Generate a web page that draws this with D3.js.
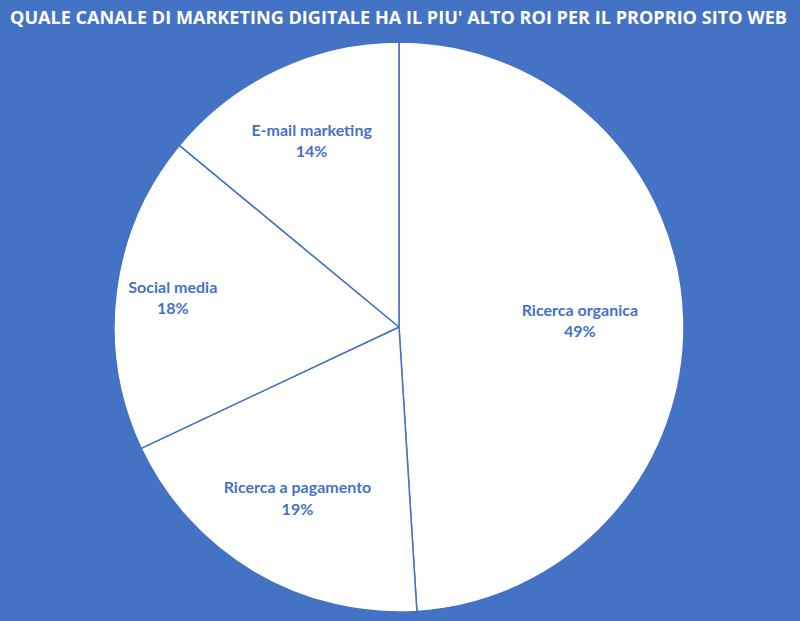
<!DOCTYPE html>
<html>
<head>
<meta charset="utf-8">
<script src="https://cdn.jsdelivr.net/npm/d3@7"></script>
<style>
  html, body { margin: 0; padding: 0; background: #4472c4; }
  svg { display: block; }
  .title { font-family: "Open Sans", sans-serif; font-weight: 700; fill: #fff; }
  .label { font-family: Lato, "Open Sans", sans-serif; font-weight: 700; fill: #4472c4; font-size: 16px; }
</style>
</head>
<body>
<div id="chart"></div>
<script>
// data
var categories = ["Ricerca organica", "Ricerca a pagamento", "Social media", "E-mail marketing"];
var values = [49, 19, 18, 14];
var chartTitle = "QUALE CANALE DI MARKETING DIGITALE HA IL PIU' ALTO ROI PER IL PROPRIO SITO WEB";

// where the labels sit, as a share of the radius (excel "best fit")
var labelRadius = [0.635, 0.70, 0.80, 0.72];

var width = 800, height = 621;
var cx = 399, cy = 327, radius = 285;
var blue = "#4472c4";

var svg = d3.select("#chart").append("svg")
    .attr("width", width)
    .attr("height", height);

svg.append("rect")
    .attr("width", width)
    .attr("height", height)
    .attr("fill", blue);

// title, stretched to the same width as the original
svg.append("text")
    .attr("class", "title")
    .attr("x", 10)
    .attr("y", 24)
    .attr("font-size", 17)
    .attr("textLength", 777)
    .attr("lengthAdjust", "spacingAndGlyphs")
    .text(chartTitle);

var dataArray = categories.map(function(c, i) { return { name: c, value: values[i], idx: i }; });

var pie = d3.pie()
    .sort(null)
    .value(function(d) { return d.value; });

var arc = d3.arc()
    .innerRadius(0)
    .outerRadius(radius);

var g = svg.append("g")
    .attr("transform", "translate(" + cx + "," + cy + ")");

var arcs = pie(dataArray);

g.selectAll("path").data(arcs).enter().append("path")
    .attr("d", arc)
    .attr("fill", "#fff")
    .attr("stroke", blue)
    .attr("stroke-width", 1.5)
    .attr("stroke-linejoin", "round");

var total = d3.sum(values);

var labels = g.selectAll("text.label").data(arcs).enter().append("text")
    .attr("class", "label")
    .attr("text-anchor", "middle")
    .attr("transform", function(d) {
        var r = radius * labelRadius[d.data.idx];
        var c = d3.arc().innerRadius(r).outerRadius(r).centroid(d);
        return "translate(" + c[0] + "," + c[1] + ")";
    });

labels.append("tspan")
    .attr("x", 0)
    .attr("dy", "-0.35em")
    .text(function(d) { return d.data.name; });

labels.append("tspan")
    .attr("x", 0)
    .attr("dy", "1.35em")
    .text(function(d) { return Math.round(d.data.value / total * 100) + "%"; });
</script>
</body>
</html>
